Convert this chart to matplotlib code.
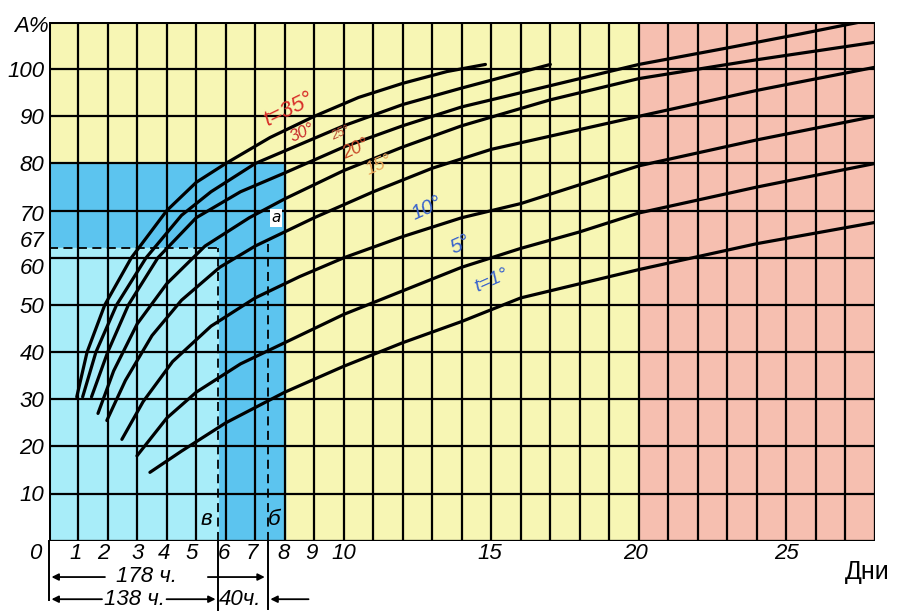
import matplotlib.pyplot as plt
from matplotlib.patches import Rectangle

# данные кривых (дни, А%)
t35_x = [0.95, 1.3, 1.9, 2.8, 4.0, 5.0, 6.0, 7.5, 9.0, 10.5, 12.0, 13.5, 14.8]
t35_y = [30.5, 40, 50, 60, 70, 76, 80, 85.5, 90, 94, 97, 99.5, 101]
t30_x = [1.15, 1.6, 2.3, 3.3, 4.5, 5.5, 7.0, 8.5, 10, 12, 14, 15.5, 17]
t30_y = [30.5, 40, 50, 60, 69, 74, 80, 84, 88, 92.5, 96, 98.5, 101]
t25_x = [1.45, 2.0, 2.7, 3.7, 5.0, 6.5, 8.0, 10, 12, 14, 17, 20, 23, 25.5, 27.5]
t25_y = [30.5, 40, 50, 60, 68.5, 74, 78, 83.5, 88, 92, 96.5, 101, 104.5, 107.5, 110]
t20_x = [1.67, 2.2, 3.0, 4.0, 5.3, 6.8, 8.0, 10, 12, 14, 17, 20, 24, 28]
t20_y = [27, 36, 46, 54.5, 62.5, 68.5, 72.5, 78.5, 83.5, 88, 93.5, 98, 102, 105.7]
t15_x = [1.97, 2.6, 3.5, 4.5, 5.8, 7.0, 8.0, 9, 11, 13, 15, 17.5, 20, 24, 28]
t15_y = [25.5, 34, 43.5, 51, 58, 62.5, 65.5, 68.5, 74, 79, 83, 86.5, 90, 95.5, 100.4]
t10_x = [2.48, 3.2, 4.2, 5.5, 7, 8.5, 10, 12, 14, 16, 18, 20, 24, 28]
t10_y = [21.5, 29.5, 38, 45.5, 51.5, 56, 60, 64.5, 68.5, 71.5, 75.5, 79.5, 85, 90]
t5_x = [2.99, 4, 5, 6.5, 8, 10, 12, 14, 16, 18, 20, 24, 28]
t5_y = [18, 26, 31.5, 37.5, 42, 48, 53, 58, 62, 65.5, 69.5, 75, 80]
t1_x = [3.43, 4.5, 6, 8, 10, 12, 14, 16, 18, 20, 24, 28]
t1_y = [14.5, 19, 25, 31.5, 37, 42, 46.5, 51.5, 54.5, 57.5, 63, 67.5]

curves_x = [t35_x, t30_x, t25_x, t20_x, t15_x, t10_x, t5_x, t1_x]
curves_y = [t35_y, t30_y, t25_y, t20_y, t15_y, t10_y, t5_y, t1_y]

curve_labels = ['t=35°', '30°', '25°', '20°', '15°', '10°', '5°', 't=1°']
label_x = [8.15, 8.6, 9.9, 10.4, 11.2, 12.8, 13.95, 15.0]
label_y = [91.5, 86.5, 86.4, 83.0, 79.6, 70.4, 62.8, 55.2]
label_size = [16, 12, 9, 13, 13, 15, 15, 14]
label_rot = [26, 24, 24, 24, 24, 24, 24, 24]
label_color = ['#d8302a', '#c8282a', '#b84a30', '#c84a28', '#e8a558',
               '#3a64cc', '#3a64cc', '#3a64cc']

y_ticks = [10, 20, 30, 40, 50, 60, 67, 70, 80, 90, 100]
y_tick_pos = [9.5, 19.5, 29.5, 39.5, 49.5, 57.7, 63.5, 69, 79.5, 89.5, 99.5]
x_ticks = [0, 1, 2, 3, 4, 5, 6, 7, 8, 9, 10, 15, 20, 25]
x_tick_pos = [-0.45, 0.9, 1.85, 3.0, 3.9, 4.85, 5.95, 6.9, 7.95, 8.9, 10.0, 14.95, 19.9, 25.0]

t_138 = 138 / 24  # дней
t_178 = 178 / 24
a_level = 62

fig = plt.figure(figsize=(9.02, 6.11), dpi=100)
ax = fig.add_axes([0.054, 0.115, 0.916, 0.849])
ax.set_xlim(0, 28)
ax.set_ylim(0, 110)
ax.axis('off')

# цветные зоны
ax.add_patch(Rectangle((0, 0), 20, 110, color='#f7f6b4', zorder=0))
ax.add_patch(Rectangle((20, 0), 8, 110, color='#f6bfb0', zorder=0))
ax.add_patch(Rectangle((0, 0), 8, 80, color='#5cc4ef', zorder=0))
ax.add_patch(Rectangle((0, 0), t_138, a_level, color='#a8edf9', zorder=0))

# сетка
for d in range(29):
    ax.plot([d, d], [0, 110], color='black', lw=1.6, zorder=1)
for v in range(0, 111, 10):
    ax.plot([0, 28], [v, v], color='black', lw=1.6, zorder=1)
ax.plot([0, 28, 28, 0, 0], [0, 0, 110, 110, 0], color='black', lw=2.2, zorder=1)

# пунктир
ax.plot([0, t_138], [a_level, a_level], color='black', lw=1.3, ls=(0, (5, 3)), zorder=2)
ax.plot([t_138, t_138], [0, a_level], color='black', lw=1.3, ls=(0, (5, 3)), zorder=2)
ax.plot([t_178, t_178], [0, a_level + 1], color='black', lw=1.3, ls=(0, (5, 3)), zorder=2)

for cx, cy in zip(curves_x, curves_y):
    ax.plot(cx, cy, color='black', lw=2.3, solid_capstyle='round', zorder=3)

for s, x, y, fs, r, c in zip(curve_labels, label_x, label_y, label_size, label_rot, label_color):
    ax.text(x, y, s, fontsize=fs, rotation=r, color=c, style='italic',
            family=['Liberation Sans', 'DejaVu Sans'],
            ha='center', va='center', zorder=4)

hand = dict(style='italic', fontsize=16, color='black', family=['Liberation Sans', 'DejaVu Sans'])
for s, y in zip(y_ticks, y_tick_pos):
    ax.text(-0.15, y, str(s), ha='right', va='center', clip_on=False, **hand)
ax.text(-0.6, 109, 'А%', ha='center', va='center', clip_on=False, **hand)
for s, x in zip(x_ticks, x_tick_pos):
    ax.text(x, -2.7, str(s), ha='center', va='center', clip_on=False, **hand)
ax.text(27.75, -6.6, 'Дни', ha='center', va='center', fontsize=18, clip_on=False,
        family=['Liberation Sans', 'DejaVu Sans'])

ax.text(5.35, 4.5, 'в', ha='center', va='center', **hand)
ax.text(7.65, 4.5, 'б', ha='center', va='center', **hand)
ax.text(7.7, 68.5, 'а', ha='center', va='center', fontsize=11, style='italic',
        bbox=dict(facecolor='white', edgecolor='none', pad=1), zorder=4)

# размерные линии под осью
dim = dict(color='black', lw=1.4, clip_on=False)
ax.plot([0, 0], [0, -12.5], **dim)
ax.plot([t_138, t_138], [0, -14.7], **dim)
ax.plot([t_178, t_178], [0, -14.5], **dim)
arrow = dict(arrowstyle='-|>', lw=1.3, color='black', mutation_scale=10)
ax.annotate('', xy=(0, -7.7), xytext=(2.0, -7.7), arrowprops=arrow, annotation_clip=False)
ax.annotate('', xy=(t_178, -7.7), xytext=(5.3, -7.7), arrowprops=arrow, annotation_clip=False)
ax.text(3.3, -7.6, '178 ч.', ha='center', va='center', clip_on=False, **hand)
ax.annotate('', xy=(0, -12.4), xytext=(1.9, -12.4), arrowprops=arrow, annotation_clip=False)
ax.annotate('', xy=(t_138, -12.4), xytext=(3.9, -12.4), arrowprops=arrow, annotation_clip=False)
ax.text(2.9, -12.5, '138 ч.', ha='center', va='center', clip_on=False, **hand)
ax.text(6.5, -12.5, '40ч.', ha='center', va='center', clip_on=False, **hand)
ax.annotate('', xy=(t_178, -12.4), xytext=(8.9, -12.4), arrowprops=arrow, annotation_clip=False)

fig.savefig('out.png', dpi=100, facecolor='white')
